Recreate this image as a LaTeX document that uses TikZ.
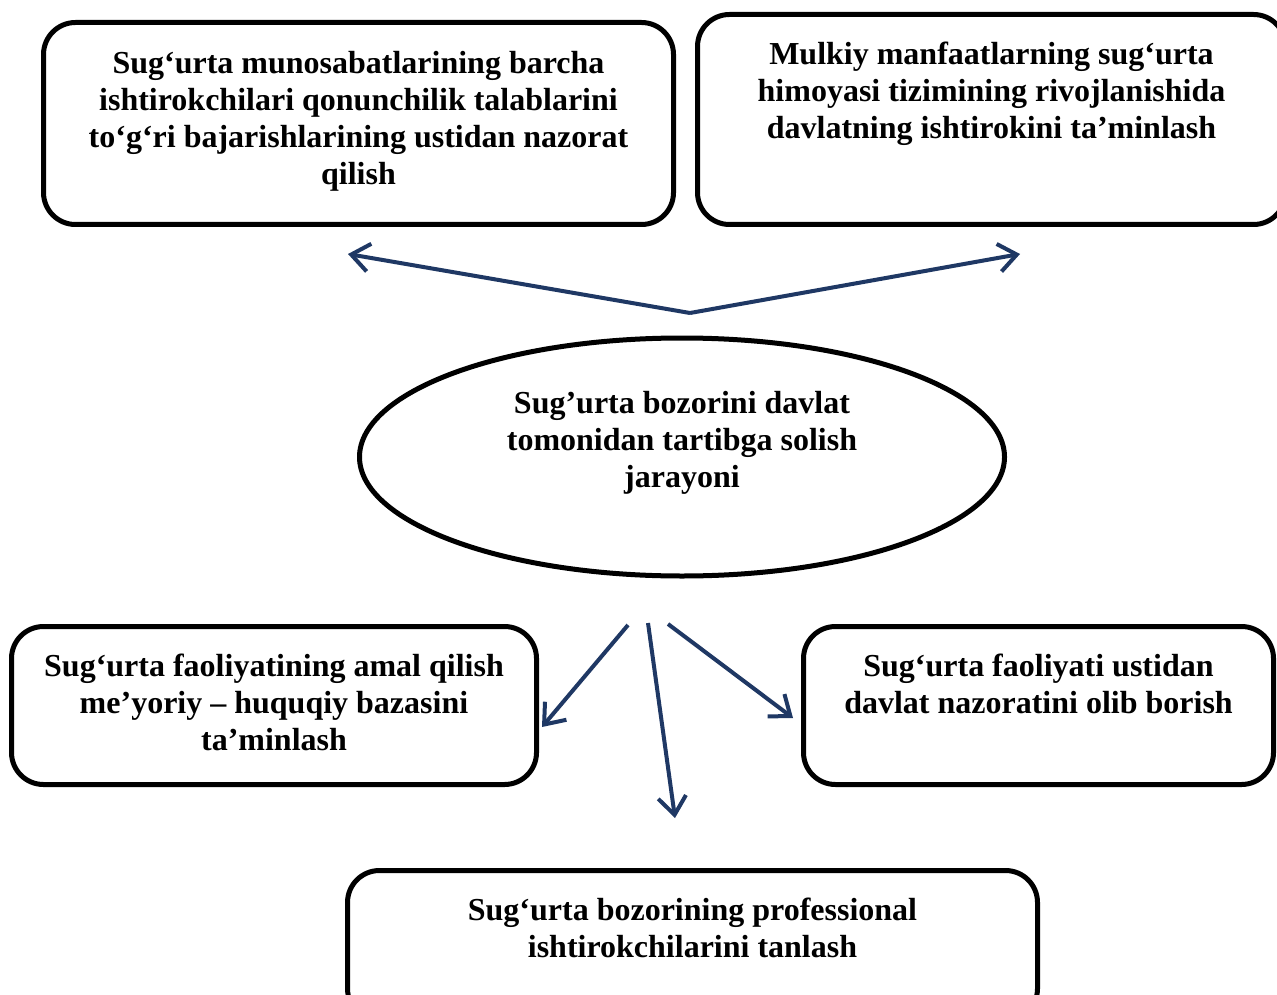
\documentclass[tikz,border=0pt]{standalone}
\usepackage{fontspec}
\setmainfont{Liberation Serif}
\usetikzlibrary{arrows.meta,shapes.geometric}

\definecolor{linkblue}{RGB}{31,56,100}

\tikzset{
  box/.style={draw, line width=2.5pt, rounded corners=16pt, anchor=north west, inner sep=0pt},
  oval/.style={draw, ellipse, line width=2.5pt, inner sep=0pt},
  boxtext/.style={anchor=north, align=center, inner sep=0pt,
    font=\fontsize{16}{18.5}\selectfont\bfseries},
  link/.style={draw=linkblue, line width=2pt,
    -{Straight Barb[length=9pt,width=14pt,line width=2pt]}}
}

\begin{document}
\begin{tikzpicture}[x=0.5pt,y=-0.5pt]

\clip (0,0) rectangle (1277,994);
\fill[white] (0,0) rectangle (1277,994);

% boxes
\node[box, minimum width=315pt, minimum height=101pt] (control) at (41,20) {};
\node[box, minimum width=294pt, minimum height=105pt] (state) at (695,12) {};
\node[oval, minimum width=322.5pt, minimum height=119pt] (regul) at (682,457) {};
\node[box, minimum width=262.5pt, minimum height=79pt] (legal) at (9,624) {};
\node[box, minimum width=235pt, minimum height=79pt] (supervise) at (801,624) {};
\node[box, minimum width=345pt, minimum height=75pt] (select) at (345,868) {};

% texts
\node[boxtext] at ([yshift=-15.5pt]control.north)
  {Sug‘urta munosabatlarining barcha\\ ishtirokchilari qonunchilik talablarini\\ to‘g‘ri bajarishlarining ustidan nazorat\\ qilish};
\node[boxtext] at ([yshift=-15pt]state.north)
  {Mulkiy manfaatlarning sug‘urta\\ himoyasi tizimining rivojlanishida\\ davlatning ishtirokini ta’minlash};
\node[boxtext] at ([yshift=-27.5pt]regul.north)
  {Sug’urta bozorini davlat\\ tomonidan tartibga solish\\ jarayoni};
\node[boxtext] at ([yshift=-15pt]legal.north)
  {Sug‘urta faoliyatining amal qilish\\ me’yoriy – huquqiy bazasini\\ ta’minlash};
\node[boxtext] at ([yshift=-15pt]supervise.north)
  {Sug‘urta faoliyati ustidan\\ davlat nazoratini olib borish};
\node[boxtext] at ([yshift=-15pt]select.north)
  {Sug‘urta bozorining professional\\ ishtirokchilarini tanlash};

% arrows
\coordinate (fork) at (690,313);
\coordinate (toleft) at (348,254);
\coordinate (toright) at (1020,254);
\draw[link] (fork) -- (toleft);
\draw[link] (fork) -- (toright);

\coordinate (outa) at (628,625);
\coordinate (outb) at (648,623);
\coordinate (outc) at (668,624);
\coordinate (ina) at (542,727);
\coordinate (inb) at (675,818);
\coordinate (inc) at (793,718);
\draw[link] (outa) -- (ina);
\draw[link] (outb) -- (inb);
\draw[link] (outc) -- (inc);
\end{tikzpicture}
\end{document}
